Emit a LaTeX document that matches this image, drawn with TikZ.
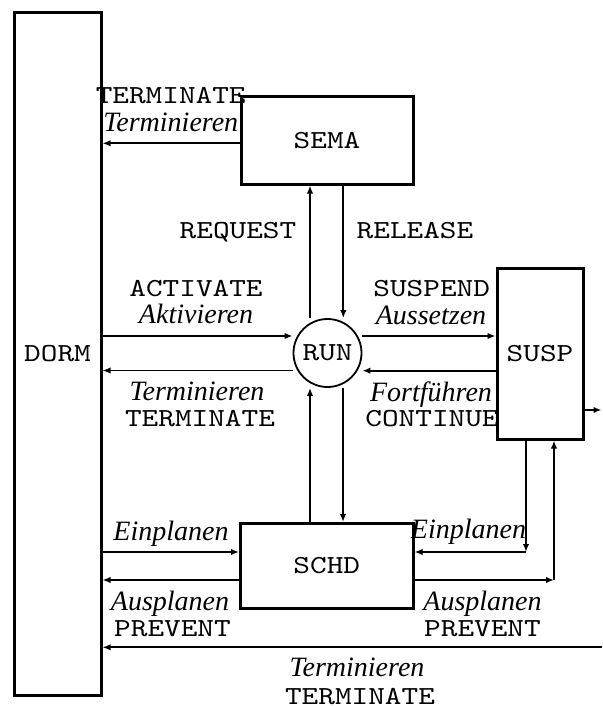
\documentclass[tikz,border=0pt]{standalone}
\usepackage{fontspec}
\setmainfont{Liberation Serif}
\newfontfamily\courfont[FakeStretch=1.22]{lmmono10-regular.otf}
\usetikzlibrary{arrows.meta}
\newcommand\ttsz{\courfont\fontsize{13pt}{15pt}\selectfont}
\begin{document}
\begin{tikzpicture}[x=0.5pt,y=-0.5pt,
  box/.style={draw, line width=1.5pt, inner sep=0pt, font=\ttsz},
  arr/.style={line width=0.85pt, -{Latex[length=4pt,width=3.2pt]}},
  tt/.style={font=\ttsz, anchor=base, inner sep=0pt},
  itl/.style={font=\itshape\fontsize{14pt}{16pt}\selectfont, anchor=base, inner sep=0pt}]
\useasboundingbox (0,0) rectangle (602,706);
% main nodes
\node[box, minimum width=87*0.5pt, minimum height=682*0.5pt] (dorm) at (57.5,354) {DORM};
\node[box, minimum width=172*0.5pt, minimum height=87*0.5pt] (sema) at (327,140.5) {SEMA};
\node[box, minimum width=86*0.5pt, minimum height=171*0.5pt] (susp) at (540,353.5) {SUSP};
\node[box, minimum width=172.5*0.5pt, minimum height=84.5*0.5pt] (schd) at (326.75,565.75) {SCHD};
\node[draw, circle, line width=0.9pt, minimum size=68*0.5pt, inner sep=0pt,
      font=\ttsz] (run) at (327.5,353) {RUN};
% free ends / corners
\coordinate (rA) at (601.5,410);
\coordinate (rB) at (602,647.3);
\coordinate (c1) at (526,552);
\coordinate (c2) at (554,580);
% connectors
\draw[arr] (sema.west |- 0,143.3) -- (dorm.east |- 0,143.3);
\draw[arr] (310,0 |- run.north) -- (310,0 |- sema.south);
\draw[arr] (343.3,0 |- sema.south) -- (343.3,0 |- run.north);
\draw[arr] (dorm.east |- 0,336) -- (run.west |- 0,336);
\draw[arr] (run.west |- 0,370.5) -- (dorm.east |- 0,370.5);
\draw[arr] (run.east |- 0,336) -- (susp.west |- 0,336);
\draw[arr] (susp.west |- 0,370.7) -- (run.east |- 0,370.7);
\draw[arr] (susp.east |- rA) -- (rA);
\draw[arr] (310,0 |- schd.north) -- (310,0 |- run.south);
\draw[arr] (343,0 |- run.south) -- (343,0 |- schd.north);
\draw[arr] (dorm.east |- 0,552) -- (schd.west |- 0,552);
\draw[arr] (schd.west |- 0,580) -- (dorm.east |- 0,580);
\draw[arr] (c1 |- susp.south) -- (c1);
\draw[arr] (c1) -- (schd.east |- c1);
\draw[arr] (schd.east |- c2) -- (c2);
\draw[arr] (c2) -- (c2 |- susp.south);
\draw[arr] (rB) -- (dorm.east |- rB);
% labels
\node[tt]  (l1)  at (170.7,104)   {TERMINATE};
\node[itl] (l2)  at (170.8,131.7) {Terminieren};
\node[tt]  (l3)  at (238,238)     {REQUEST};
\node[tt]  (l4)  at (415,238)     {RELEASE};
\node[tt]  (l5)  at (196,296.7)   {ACTIVATE};
\node[itl] (l6)  at (196,323)     {Aktivieren};
\node[itl] (l7)  at (197,400)     {Terminieren};
\node[tt]  (l8)  at (200,426.7)   {TERMINATE};
\node[tt]  (l9)  at (431.7,296.7) {SUSPEND};
\node[itl] (l10) at (431,324)     {Aussetzen};
\node[itl] (l11) at (431,401.7)   {Fortführen};
\node[tt]  (l12) at (432,426)     {CONTINUE};
\node[itl] (l13) at (171,540)     {Einplanen};
\node[itl] (l14) at (468.5,538)   {Einplanen};
\node[itl] (l15) at (170,610)     {Ausplanen};
\node[tt]  (l16) at (172.5,636.7) {PREVENT};
\node[itl] (l17) at (482.5,610)   {Ausplanen};
\node[tt]  (l18) at (482.5,636.7) {PREVENT};
\node[itl] (l19) at (357,676.7)   {Terminieren};
\node[tt]  (l20) at (360,704)     {TERMINATE};
\end{tikzpicture}
\end{document}
